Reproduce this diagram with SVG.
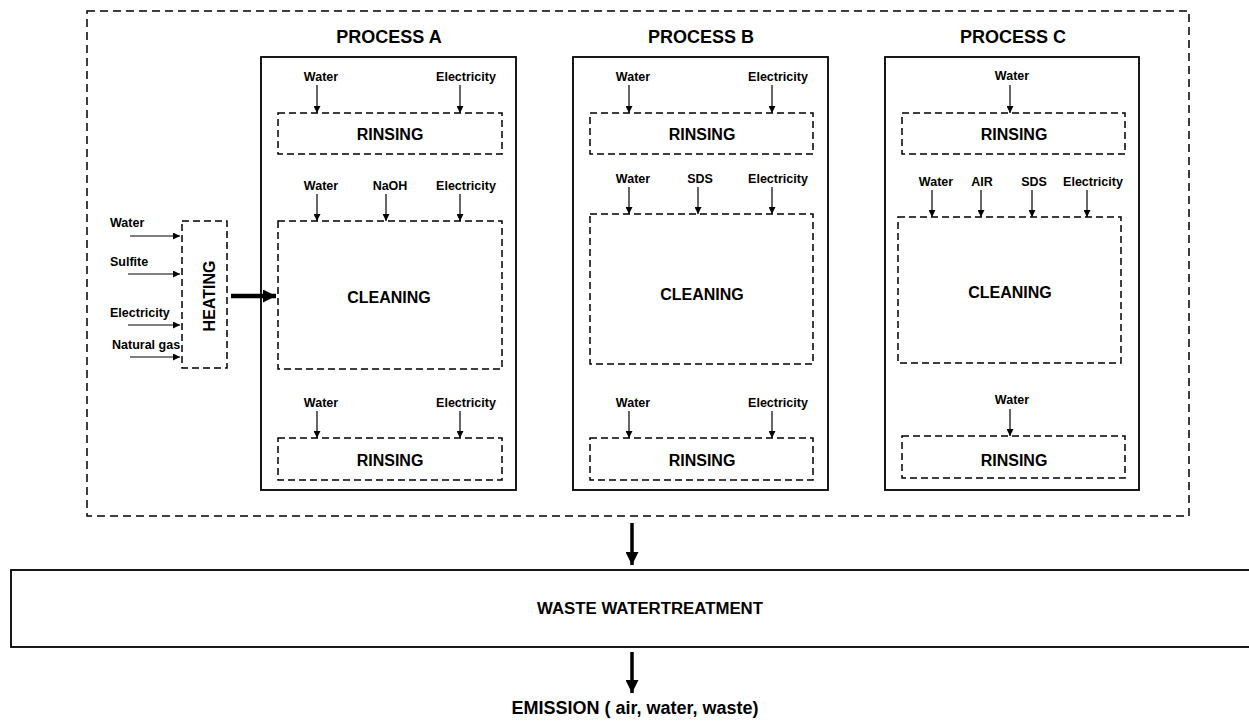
<svg xmlns="http://www.w3.org/2000/svg" width="1249" height="724" viewBox="0 0 1249 724">
<style>
text{font-family:"Liberation Sans",Arial,sans-serif;font-weight:bold;fill:#000;text-anchor:middle}
.lbl{font-size:12.5px}
.sec{font-size:16px}
.ttl{font-size:18px}
.dash{fill:none;stroke:#000;stroke-width:1.5;stroke-dasharray:7 4}
.odash{fill:none;stroke:#000;stroke-width:1.5;stroke-dasharray:8 5}
.solid{fill:none;stroke:#000;stroke-width:1.8}
.a{stroke:#000;stroke-width:1.2;fill:none;marker-end:url(#ah)}
.ab{stroke:#000;stroke-width:3.5;fill:none;marker-end:url(#ahb)}
</style>
<defs>
<marker id="ah" viewBox="0 0 10 10" refX="10" refY="5" markerWidth="7" markerHeight="7" markerUnits="userSpaceOnUse" orient="auto"><path d="M0,0 L10,5 L0,10 z" fill="#000"/></marker>
<marker id="ahb" viewBox="0 0 10 10" refX="10" refY="5" markerWidth="13" markerHeight="13" markerUnits="userSpaceOnUse" orient="auto"><path d="M0,0 L10,5 L0,10 z" fill="#000"/></marker>
</defs>

<g id="outer"><rect class="odash" x="87" y="11" width="1102" height="505"/></g>

<g id="heating">
<rect class="dash" x="182" y="221" width="45" height="147"/>
<text class="sec" transform="translate(215,296) rotate(-90)">HEATING</text>
</g>
<g id="heating-inputs">
<text class="lbl" x="110" y="227" style="text-anchor:start">Water</text>
<text class="lbl" x="110" y="266" style="text-anchor:start">Sulfite</text>
<text class="lbl" x="110" y="317" style="text-anchor:start">Electricity</text>
<text class="lbl" x="112" y="349" style="text-anchor:start">Natural gas</text>
</g>

<g id="processA">
<rect class="solid" x="261" y="57" width="255" height="433"/>
<text class="ttl" x="389" y="43">PROCESS A</text>
<rect class="dash" x="278" y="113" width="224" height="41"/>
<text class="sec" x="390" y="140">RINSING</text>
<text class="lbl" x="321" y="81">Water</text>
<text class="lbl" x="466" y="81">Electricity</text>
<rect class="dash" x="278" y="221" width="224" height="148"/>
<text class="sec" x="389" y="303">CLEANING</text>
<text class="lbl" x="321" y="190">Water</text>
<text class="lbl" x="390" y="190">NaOH</text>
<text class="lbl" x="466" y="190">Electricity</text>
<rect class="dash" x="278" y="438" width="224" height="42"/>
<text class="sec" x="390" y="466">RINSING</text>
<text class="lbl" x="321" y="407">Water</text>
<text class="lbl" x="466" y="407">Electricity</text>
</g>

<g id="processB">
<rect class="solid" x="573" y="57" width="255" height="433"/>
<text class="ttl" x="701" y="43">PROCESS B</text>
<rect class="dash" x="590" y="113" width="223" height="41"/>
<text class="sec" x="702" y="140">RINSING</text>
<text class="lbl" x="633" y="81">Water</text>
<text class="lbl" x="778" y="81">Electricity</text>
<rect class="dash" x="590" y="214" width="223" height="150"/>
<text class="sec" x="702" y="300">CLEANING</text>
<text class="lbl" x="633" y="183">Water</text>
<text class="lbl" x="700" y="183">SDS</text>
<text class="lbl" x="778" y="183">Electricity</text>
<rect class="dash" x="590" y="438" width="223" height="42"/>
<text class="sec" x="702" y="466">RINSING</text>
<text class="lbl" x="633" y="407">Water</text>
<text class="lbl" x="778" y="407">Electricity</text>
</g>

<g id="processC">
<rect class="solid" x="885" y="57" width="254" height="433"/>
<text class="ttl" x="1013" y="43">PROCESS C</text>
<rect class="dash" x="902" y="113" width="223" height="41"/>
<text class="sec" x="1014" y="140">RINSING</text>
<text class="lbl" x="1012" y="80">Water</text>
<rect class="dash" x="898" y="217" width="223" height="146"/>
<text class="sec" x="1010" y="298">CLEANING</text>
<text class="lbl" x="936" y="186">Water</text>
<text class="lbl" x="982" y="186">AIR</text>
<text class="lbl" x="1034" y="186">SDS</text>
<text class="lbl" x="1093" y="186">Electricity</text>
<rect class="dash" x="902" y="436" width="223" height="42"/>
<text class="sec" x="1014" y="466">RINSING</text>
<text class="lbl" x="1012" y="404">Water</text>
</g>

<g id="wwt">
<rect class="solid" x="11" y="570" width="1245" height="77"/>
<text x="650" y="614" style="font-size:16.8px">WASTE WATERTREATMENT</text>
</g>
<g id="emission">
<text x="635" y="714" style="font-size:18px">EMISSION ( air, water, waste)</text>
</g>

<g id="connectors">
<line class="a" x1="130" y1="236" x2="180" y2="236"/>
<line class="a" x1="128" y1="274" x2="180" y2="274"/>
<line class="a" x1="128" y1="325" x2="180" y2="325"/>
<line class="a" x1="130" y1="357" x2="180" y2="357"/>
<line class="ab" x1="231" y1="296" x2="276" y2="296" style="stroke-width:4.5"/>

<line class="a" x1="317" y1="85" x2="317" y2="113"/>
<line class="a" x1="460" y1="85" x2="460" y2="113"/>
<line class="a" x1="317" y1="194" x2="317" y2="221"/>
<line class="a" x1="386" y1="194" x2="386" y2="221"/>
<line class="a" x1="460" y1="194" x2="460" y2="221"/>
<line class="a" x1="317" y1="411" x2="317" y2="438"/>
<line class="a" x1="460" y1="411" x2="460" y2="438"/>

<line class="a" x1="629" y1="85" x2="629" y2="113"/>
<line class="a" x1="772" y1="85" x2="772" y2="113"/>
<line class="a" x1="629" y1="187" x2="629" y2="214"/>
<line class="a" x1="698" y1="187" x2="698" y2="214"/>
<line class="a" x1="772" y1="187" x2="772" y2="214"/>
<line class="a" x1="629" y1="411" x2="629" y2="438"/>
<line class="a" x1="772" y1="411" x2="772" y2="438"/>

<line class="a" x1="1010" y1="85" x2="1010" y2="113"/>
<line class="a" x1="932" y1="190" x2="932" y2="217"/>
<line class="a" x1="981" y1="190" x2="981" y2="217"/>
<line class="a" x1="1032" y1="190" x2="1032" y2="217"/>
<line class="a" x1="1087" y1="190" x2="1087" y2="217"/>
<line class="a" x1="1010" y1="409" x2="1010" y2="436"/>

<line class="ab" x1="632" y1="523" x2="632" y2="565"/>
<line class="ab" x1="632" y1="652" x2="632" y2="693"/>
</g>
</svg>
